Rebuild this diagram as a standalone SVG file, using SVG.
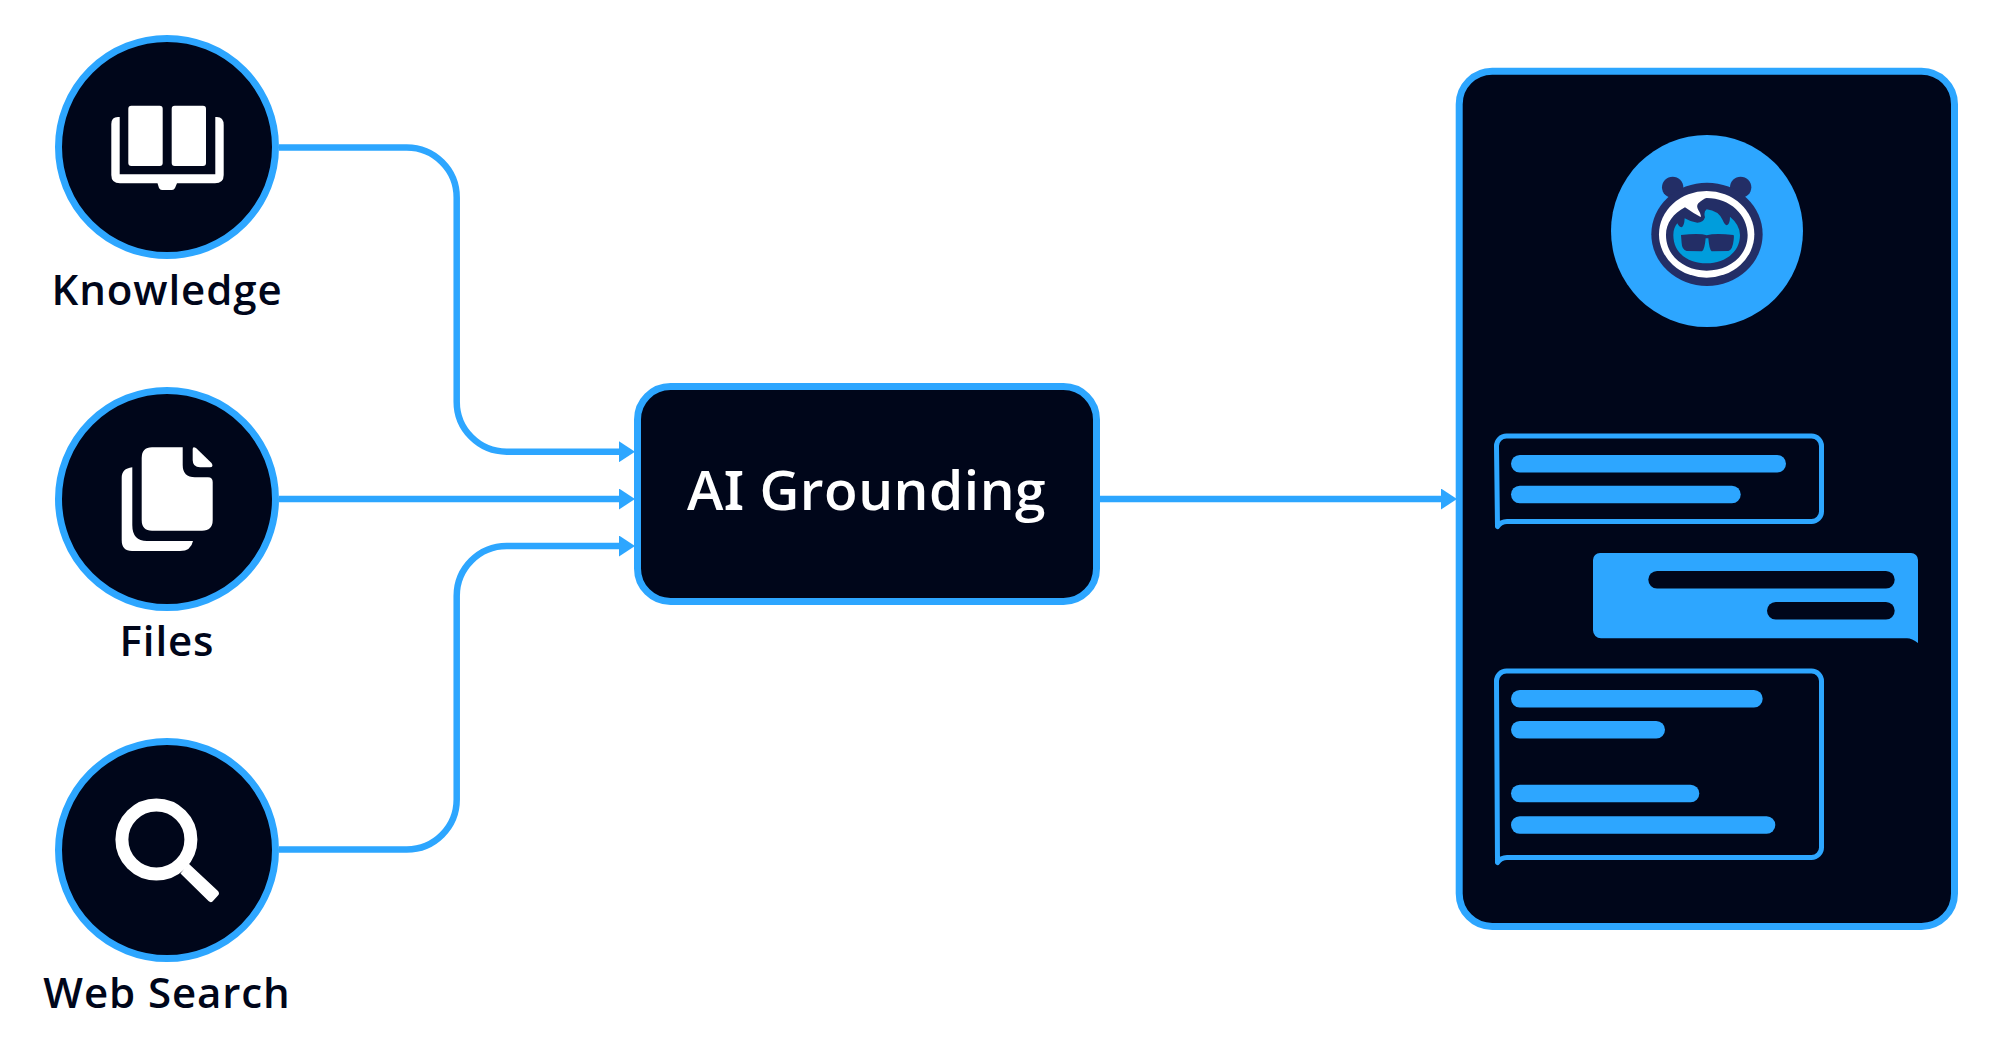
<svg xmlns="http://www.w3.org/2000/svg" width="2000" height="1060" viewBox="0 0 2000 1060">
<style>
.dark{fill:#00061A}
.blue{fill:#2DA6FF}
.white{fill:#fff}
.navy{fill:#232E66}
.ring{fill:#00061A;stroke:#2DA6FF;stroke-width:7}
.conn{fill:none;stroke:#2DA6FF;stroke-width:6.500;marker-end:url(#arrow)}
.lab{font-family:"Open Sans","Noto Sans",sans-serif;font-weight:600;font-size:42px;letter-spacing:.9px;fill:#00061A;text-anchor:middle}
.bubble{fill:none;stroke:#2DA6FF;stroke-width:5;stroke-linejoin:round}
</style>
<defs>
<marker id="arrow" markerUnits="userSpaceOnUse" markerWidth="16" markerHeight="21" viewBox="0 0 16 21" refX="5" refY="10.500" orient="auto"><polygon points="0,0 16,10.500 0,21" fill="#2DA6FF"/></marker>
</defs>
<rect width="2000" height="1060" fill="#fff"/>
<g id="connectors">
<path class="conn" d="M279 147.500H406.700A50 50 0 0 1 456.700 197.500V401.700A50 50 0 0 0 506.700 451.700H624"/>
<path class="conn" d="M279 499H624"/>
<path class="conn" d="M279 849.500H406.700A50 50 0 0 0 456.700 799.500V596A50 50 0 0 1 506.700 546H624"/>
<path class="conn" d="M1100 499H1446"/>
</g>
<g id="knowledge">
<circle class="ring" cx="167" cy="147" r="108.500"/>
<g class="white">
<rect x="128.300" y="105.700" width="34.400" height="60.300" rx="3"/>
<rect x="171.700" y="105.700" width="34.300" height="60.300" rx="3"/>
<path d="M119.700 117V174.300H215.300V117Q223.700 116 223.700 125V175Q223.700 183.300 215 183.300H177L175 188Q174 190 172 190H162Q160 190 159 188L157.500 183.300H120Q111.300 183.300 111.300 175V124Q111.300 116 119.700 117Z"/>
</g>
<text class="lab" x="167" y="305">Knowledge</text>
</g>
<g id="files">
<circle class="ring" cx="167" cy="499" r="108.500"/>
<g class="white">
<path d="M132.300 467.300C125 468 121.700 472 121.700 478V540Q121.700 551 132 551H180Q191 551 193 541H147Q132.300 541 132.300 525Z"/>
<path d="M152 447.300H182.700V465Q182.700 477.300 195 477.300H208Q212.700 477.300 212.700 482V520Q212.700 530.700 202 530.700H152Q141.700 530.700 141.700 520V458Q141.700 447.300 152 447.300Z"/>
<path d="M192.700 449Q192.700 446 196 448L211.500 463Q214 467 210 467.300H200Q192.700 467.300 192.700 460Z"/>
</g>
<text class="lab" x="167" y="656">Files</text>
</g>
<g id="web-search">
<circle class="ring" cx="167" cy="850" r="108.500"/>
<circle cx="156.400" cy="839.500" r="34.500" fill="none" stroke="#fff" stroke-width="13"/>
<path d="M180.500 873.500L188.500 863.500L218 891Q220 893.500 218 895.500L212.500 901.500Q210.500 903 208.500 901Z" class="white"/>
<text class="lab" x="167" y="1008">Web Search</text>
</g>
<g id="ai-grounding">
<rect x="637.500" y="386.500" width="459" height="215" rx="33" class="ring"/>
<text x="866.500" y="510" font-family="'Open Sans','Noto Sans',sans-serif" font-weight="600" font-size="55" letter-spacing=".5" fill="#fff" text-anchor="middle">A<tspan font-family="'Noto Sans',sans-serif">I</tspan> Grounding</text>
</g>
<g id="chat-panel">
<rect x="1459.200" y="71.200" width="495.300" height="855.300" rx="33" class="ring"/>
<g id="avatar">
<circle cx="1707" cy="231" r="96" class="blue"/>
<g transform="translate(1590 120) scale(.3333)">
<circle cx="248" cy="202" r="32" class="navy"/>
<circle cx="452" cy="202" r="32" class="navy"/>
<ellipse cx="351" cy="343" rx="167" ry="155" class="navy"/>
<ellipse cx="350" cy="343" rx="143" ry="130" class="white"/>
<path class="navy" d="M228 345C228 310 250 280 285 262Q310 280 332 291Q335 285 325 270Q318 258 325 250Q340 236 350 234C420 234 473 285 473 345C473 410 415 452 350 452C285 452 228 410 228 345Z"/>
<path fill="#009DDC" d="M250 345C250 330 255 318 262 310Q268 322 275 322Q283 318 284 295Q300 305 322 308Q340 308 345 292Q340 275 350 268Q385 272 398 300Q405 318 412 315Q420 310 420 290Q450 315 450 345C450 400 400 430 350 430C295 430 250 400 250 345Z"/>
<path class="navy" d="M273 345Q330 338 350 346Q375 338 430 345Q433 345 431 360Q428 390 415 393L365 394Q358 390 355 355L347 355Q344 390 336 394L290 393Q276 390 275 370Z"/>
</g>
</g>
<g id="bubble-1">
<path class="bubble" d="M1496.500 446A10 10 0 0 1 1506.500 436H1811.500A10 10 0 0 1 1821.500 446V511.500A10 10 0 0 1 1811.500 521.500H1507Q1501 521.500 1497.500 526.500Z"/>
<rect x="1511" y="455" width="275" height="17.500" rx="8.750" class="blue"/>
<rect x="1511" y="485.700" width="229.700" height="17.500" rx="8.750" class="blue"/>
</g>
<g id="bubble-2">
<path class="blue" d="M1600 553H1911A7 7 0 0 1 1918 560V643Q1912 638.300 1907 638.300H1601A8 8 0 0 1 1593 630.300V560A7 7 0 0 1 1600 553Z"/>
<rect x="1648.300" y="571" width="246.400" height="17.500" rx="8.750" class="dark"/>
<rect x="1767" y="602" width="127.700" height="17.500" rx="8.750" class="dark"/>
</g>
<g id="bubble-3">
<path class="bubble" d="M1496.500 681A10 10 0 0 1 1506.500 671H1811.500A10 10 0 0 1 1821.500 681V847.500A10 10 0 0 1 1811.500 857.500H1507Q1501 857.500 1497.500 862.500Z"/>
<rect x="1511" y="690" width="251.700" height="17.500" rx="8.750" class="blue"/>
<rect x="1511" y="721" width="154" height="17.500" rx="8.750" class="blue"/>
<rect x="1511" y="784.700" width="188.300" height="17.500" rx="8.750" class="blue"/>
<rect x="1511" y="816.300" width="264.300" height="17.500" rx="8.750" class="blue"/>
</g>
</g>
</svg>
